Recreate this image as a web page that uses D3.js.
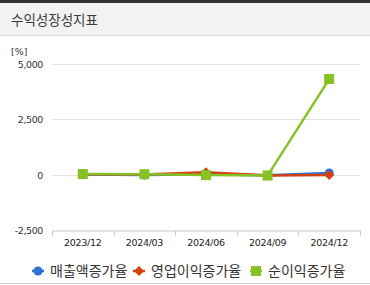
<!DOCTYPE html>
<html>
<head>
<meta charset="utf-8">
<script src="https://cdn.jsdelivr.net/npm/d3@7"></script>
<style>
  body { margin: 0; background: #fff; font-family: "Noto Sans CJK KR", "Noto Sans", sans-serif; }
  #wrap { width: 370px; height: 285px; position: relative; overflow: hidden; }
  #head { height: 32px; border-top: 3px solid #333; border-bottom: 1px solid #d9d9d9; background: #f2f2f2;
          font-size: 13.5px; color: #3a3a3a; line-height: 32px; padding-left: 11px; }
</style>
</head>
<body>
<div id="wrap">
  <div id="head">수익성장성지표</div>
  <svg id="chart" width="370" height="285" style="position:absolute;left:0;top:0"></svg>
</div>
<script>
// --- data ---
const periods = ["2023/12", "2024/03", "2024/06", "2024/09", "2024/12"];
const salesGrowth = [10, -20, 20, -30, 80];
const opGrowth = [20, 10, 110, -40, -20];
const netGrowth = [30, 20, -20, -40, 4320];
const yTicks = [-2500, 0, 2500, 5000];

const seriesList = [
  { name: "매출액증가율", values: salesGrowth, color: "#2e6fd8", shape: "circle" },
  { name: "영업이익증가율", values: opGrowth, color: "#d4400f", shape: "diamond" },
  { name: "순이익증가율", values: netGrowth, color: "#86c226", shape: "square" },
];

const svg = d3.select("#chart");

const x = d3.scaleBand().domain(periods).range([52, 360]);
const y = d3.scaleLinear().domain([-2500, 5000]).range([230, 64]);
const fmt = (d) => d3.format(",")(d).replace("−", "-");

// gridlines
svg.append("g").selectAll("line").data(yTicks.filter((d) => d !== -2500)).join("line")
  .attr("x1", 52).attr("x2", 360)
  .attr("y1", (d) => Math.round(y(d)) + 0.5).attr("y2", (d) => Math.round(y(d)) + 0.5)
  .attr("stroke", "#e3e3e3").attr("stroke-width", 1);

// y labels
svg.append("g").selectAll("text").data(yTicks).join("text")
  .attr("x", 43).attr("y", (d) => y(d) + 4)
  .attr("text-anchor", "end")
  .attr("font-size", 9.5).attr("fill", "#333")
  .attr("font-family", "'DejaVu Sans', sans-serif")
  .attr("letter-spacing", -0.4)
  .text(fmt);

svg.append("text").attr("x", 11).attr("y", 55)
  .attr("font-size", 9.5).attr("fill", "#333")
  .attr("font-family", "'DejaVu Sans', sans-serif")
  .text("[%]");

// x axis
const xAxis = d3.axisBottom(x).tickSize(0).tickPadding(9);
const gx = svg.append("g").attr("transform", `translate(0,${y(-2500) + 0.5})`).call(xAxis);
gx.select(".domain").attr("stroke", "#c8c8c8");
gx.selectAll("text").attr("font-size", 9.5).attr("fill", "#222")
  .attr("font-family", "'DejaVu Sans', sans-serif").attr("letter-spacing", -0.3);
const bounds = periods.map((p) => x(p)).concat([x.range()[1]]);
gx.selectAll(".bound").data(bounds).join("line").attr("class", "bound")
  .attr("x1", (d) => Math.round(d) + 0.5).attr("x2", (d) => Math.round(d) + 0.5)
  .attr("y1", 0).attr("y2", 5).attr("stroke", "#c8c8c8");

// lines and markers
const cx = (i) => x(periods[i]) + x.bandwidth() / 2;
const line = d3.line().x((d, i) => cx(i)).y((d) => y(d));

function marker(g, shape, color, px, py) {
  if (shape === "circle") {
    g.append("circle").attr("cx", px).attr("cy", py).attr("r", 4.5).attr("fill", color);
  } else if (shape === "diamond") {
    g.append("path").attr("d", `M${px},${py - 5}L${px + 5},${py}L${px},${py + 5}L${px - 5},${py}Z`).attr("fill", color);
  } else {
    g.append("rect").attr("x", px - 5).attr("y", py - 5).attr("width", 10).attr("height", 10).attr("fill", color);
  }
}

seriesList.forEach((s) => {
  const g = svg.append("g");
  g.append("path").datum(s.values).attr("d", line)
    .attr("fill", "none").attr("stroke", s.color).attr("stroke-width", 2.5);
  s.values.forEach((v, i) => marker(g, s.shape, s.color, cx(i), y(v)));
});

// legend
const legendX = [38, 139, 256];
const legend = svg.append("g");
seriesList.forEach((s, i) => {
  const lx = legendX[i], ly = 271;
  legend.append("line").attr("x1", lx - 6).attr("x2", lx + 6).attr("y1", ly).attr("y2", ly)
    .attr("stroke", s.color).attr("stroke-width", 2.5);
  marker(legend, s.shape, s.color, lx, ly);
  legend.append("text").attr("x", lx + 12).attr("y", ly + 5)
    .attr("font-size", 14).attr("fill", "#333").text(s.name);
});

// bottom border
svg.append("line").attr("x1", 0).attr("x2", 370).attr("y1", 283.5).attr("y2", 283.5)
  .attr("stroke", "#d0d0d0");
</script>
</body>
</html>
